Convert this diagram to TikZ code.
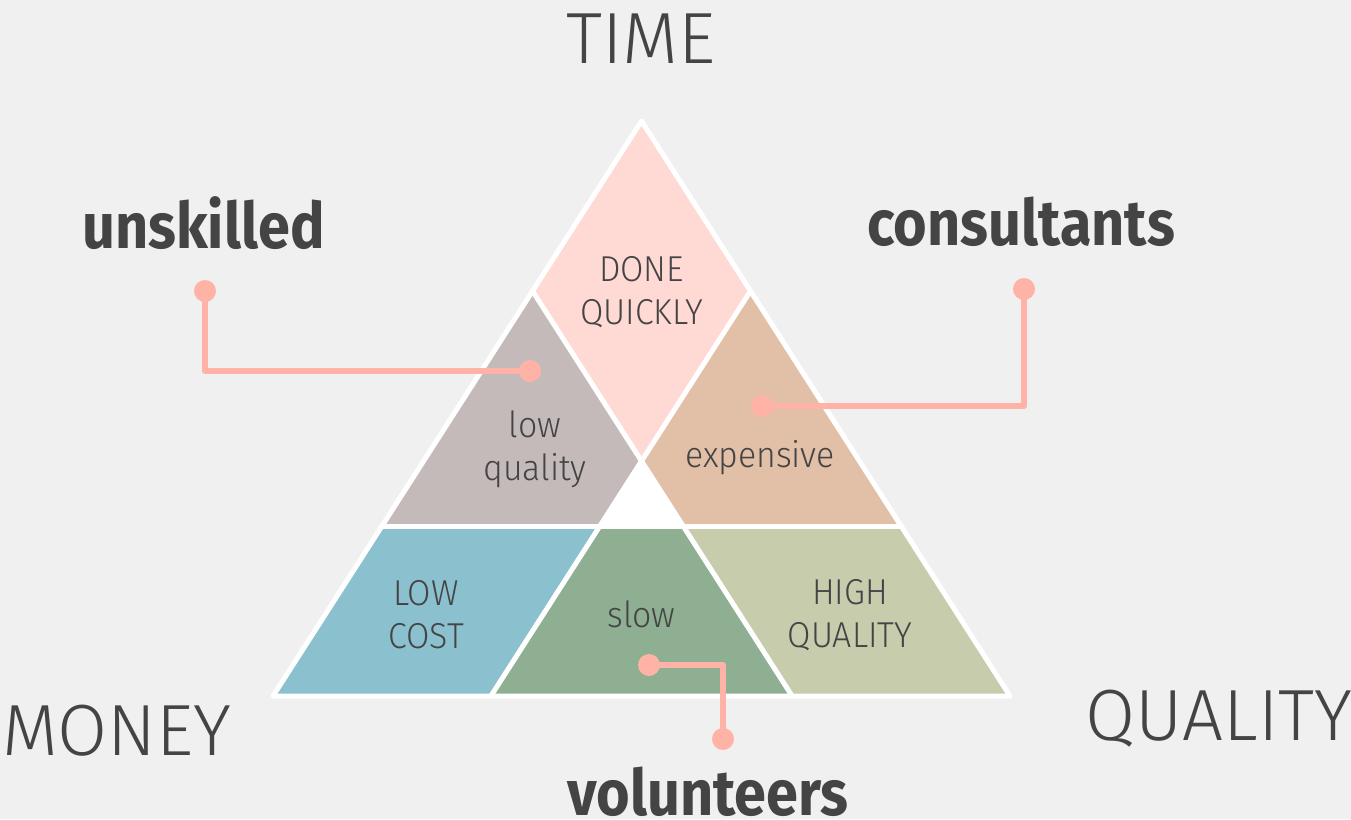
\documentclass[tikz,border=0pt]{standalone}
\usepackage{fontspec}
\setmainfont{Fira Sans}
\newfontfamily\lightf{Fira Sans Light}[FakeStretch=0.94]
\newfontfamily\lightw{Fira Sans Light}
\newfontfamily\boldf{Fira Sans Bold}[FakeStretch=0.9]
\definecolor{bg}{HTML}{F0F0F0}
\definecolor{txt}{HTML}{444444}
\definecolor{cDone}{HTML}{FFD9D3}
\definecolor{cLowq}{HTML}{C4BAB9}
\definecolor{cExp}{HTML}{E2C0A7}
\definecolor{cCost}{HTML}{8BC0CE}
\definecolor{cSlow}{HTML}{8FAF93}
\definecolor{cHigh}{HTML}{C7CCAD}
\definecolor{cLink}{HTML}{FFB3A7}
\begin{document}
\begin{tikzpicture}[x=1pt,y=-1pt,
  sep/.style={draw=white,line width=5pt,line join=round,line cap=round},
  corner/.style={text=txt,font=\lightw\fontsize{72.5}{80}\selectfont,anchor=base,inner sep=0pt},
  inner/.style={text=txt,font=\lightf\fontsize{36}{43}\selectfont,align=center,inner sep=0pt},
  who/.style={text=txt,font=\boldf\fontsize{64}{72}\selectfont,inner sep=0pt},
  link/.style={draw=cLink,line width=6pt,line join=round},
  dot/.style={circle,fill=cLink,minimum size=22pt,inner sep=0pt}]
\useasboundingbox (0,0) rectangle (1351,819);
\fill[bg] (0,0) rectangle (1351,819);
% key points
\coordinate (A) at (641.5,121);
\coordinate (BL) at (273,696);
\coordinate (BR) at (1010,696);
\coordinate (P1) at (532.5,291);
\coordinate (P2) at (750.5,291);
\coordinate (C) at (641.5,461);
\coordinate (Q1) at (381.9,526);
\coordinate (Q2) at (901.1,526);
\coordinate (M1) at (599.8,526);
\coordinate (M2) at (683.2,526);
\coordinate (B1) at (490.9,696);
\coordinate (B2) at (792.1,696);
% regions
\fill[cDone] (A) -- (P1) -- (C) -- (P2) -- cycle;
\fill[cLowq] (P1) -- (Q1) -- (M1) -- (C) -- cycle;
\fill[cExp] (P2) -- (C) -- (M2) -- (Q2) -- cycle;
\fill[cCost] (Q1) -- (BL) -- (B1) -- (M1) -- cycle;
\fill[cSlow] (M1) -- (B1) -- (B2) -- (M2) -- cycle;
\fill[cHigh] (M2) -- (B2) -- (BR) -- (Q2) -- cycle;
\fill[white] (C) -- (M1) -- (M2) -- cycle;
% white separators
\draw[sep] (P1) -- (B2);
\draw[sep] (P2) -- (B1);
\draw[sep] (Q1) -- (Q2);
\draw[sep] (A) -- (BL) -- (BR) -- cycle;
% corner labels
\node[corner] (time) at (641,63) {TIME};
\node[corner] (money) at (117,755) {MONEY};
\node[corner] (quality) at (1219,740) {QUALITY};
% inner labels
\node[inner] (done) at (641.5,292) {DONE\\QUICKLY};
\node[inner] (lowq) at (535,449) {low\\quality};
\node[inner] (exp) at (760,458) {expensive};
\node[inner] (cost) at (426,615) {LOW\\COST};
\node[inner] (slow) at (641.5,614) {slow};
\node[inner] (high) at (850,615) {HIGH\\QUALITY};
% who labels
\node[who,anchor=base west] (unsk) at (82,248) {unskilled};
\node[who,anchor=base east] (cons) at (1175,245) {consultants};
\node[who,anchor=base] (vol) at (708,815) {volunteers};
% connectors
\node[dot] (d1a) at (205,291) {};
\node[dot] (d1b) at (530,371) {};
\node[dot] (d2a) at (1024,289) {};
\node[dot] (d2b) at (762,406) {};
\node[dot] (d3a) at (649,665) {};
\node[dot] (d3b) at (723,739) {};
\draw[link] (d1a.center) |- (d1b.center);
\draw[link] (d2a.center) |- (d2b.center);
\draw[link] (d3a.center) -| (d3b.center);
\end{tikzpicture}
\end{document}
